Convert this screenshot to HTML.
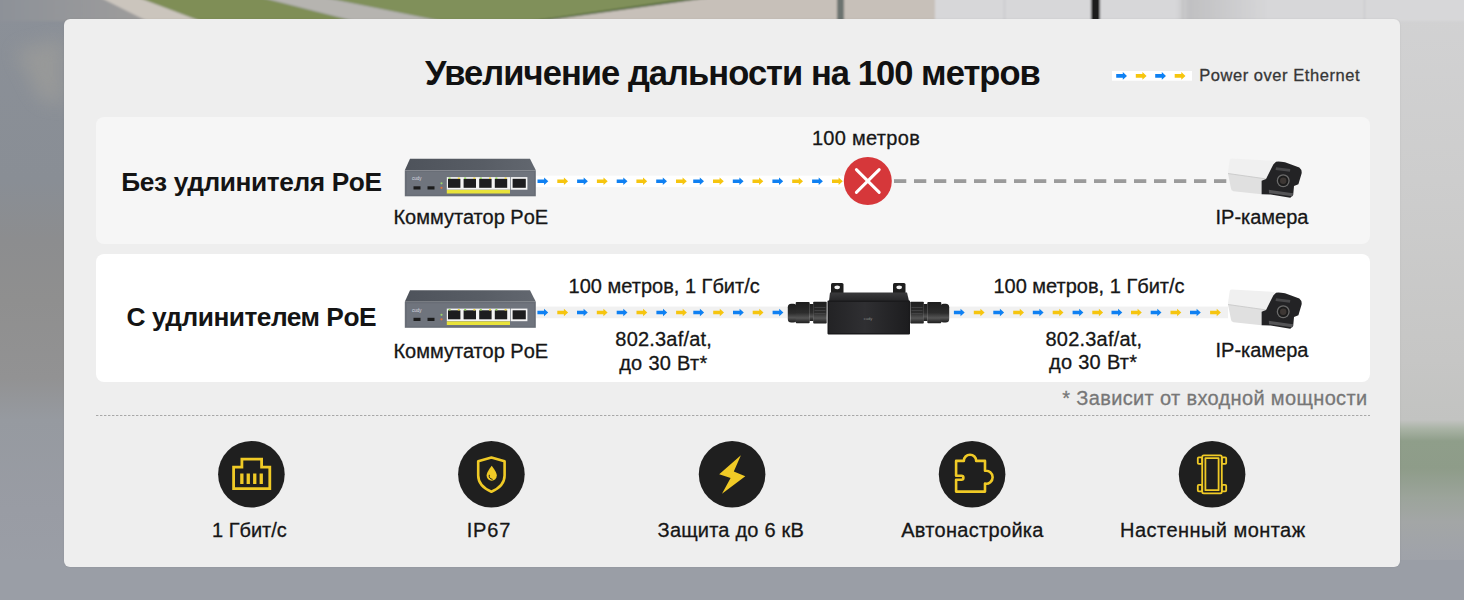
<!DOCTYPE html>
<html><head><meta charset="utf-8"><style>
html,body{margin:0;padding:0;width:1464px;height:600px;overflow:hidden;background:#9a9ea6}
body{position:relative;font-family:"Liberation Sans",sans-serif}
.a{position:absolute}
.t{position:absolute;white-space:nowrap;line-height:1}
.t.r{-webkit-text-stroke:0.3px currentColor}
.card{position:absolute;left:64px;top:19px;width:1336px;height:548px;border-radius:6px;background:#eeeeee;box-shadow:0 0 2px rgba(0,0,0,.08)}
.r1{position:absolute;left:96px;top:117px;width:1274px;height:127px;border-radius:8px;background:#f6f6f6}
.r2{position:absolute;left:96px;top:254px;width:1274px;height:128px;border-radius:8px;background:#ffffff}
</style></head><body>
<svg class="a" style="left:0;top:0" width="1464" height="600" viewBox="0 0 1464 600">
<defs>
<linearGradient id="lg" x1="0" y1="0" x2="0" y2="1">
 <stop offset="0" stop-color="#8b9098"/><stop offset="0.3" stop-color="#898e95"/><stop offset="0.4" stop-color="#8c8d8f"/><stop offset="0.5" stop-color="#8f8f8f"/><stop offset="0.63" stop-color="#929293"/><stop offset="0.7" stop-color="#969aa0"/><stop offset="0.85" stop-color="#999ca4"/><stop offset="1" stop-color="#9b9fa7"/>
</linearGradient>
<linearGradient id="rg" x1="0" y1="0" x2="0" y2="1">
 <stop offset="0" stop-color="#d2d2d3"/><stop offset="0.3" stop-color="#cdcdcd"/><stop offset="0.6" stop-color="#c6c6c5"/><stop offset="0.7" stop-color="#c2c3c1"/><stop offset="0.715" stop-color="#a9b3a5"/><stop offset="0.735" stop-color="#8f9e8a"/><stop offset="0.78" stop-color="#8e9c89"/><stop offset="0.83" stop-color="#9ca49b"/><stop offset="0.87" stop-color="#a3a6a6"/><stop offset="0.92" stop-color="#a0a3a9"/><stop offset="1" stop-color="#9a9ea6"/>
</linearGradient>
<linearGradient id="road" x1="0" y1="0" x2="1" y2="0">
 <stop offset="0" stop-color="#8b9098"/><stop offset="0.6" stop-color="#9a9a9b"/><stop offset="1" stop-color="#a4a19d"/>
</linearGradient>
<linearGradient id="wg" x1="0" y1="0" x2="1" y2="0"><stop offset="0" stop-color="#d6d6d8"/><stop offset="0.15" stop-color="#c0c0c2"/><stop offset="0.5" stop-color="#c9c9cb"/><stop offset="1" stop-color="#d6d6d8"/></linearGradient>
<filter id="bl2" x="-1" y="-1" width="3" height="3"><feGaussianBlur stdDeviation="9"/></filter>
<filter id="bl" filterUnits="userSpaceOnUse" x="-50" y="-50" width="1564" height="130"><feGaussianBlur stdDeviation="1.3"/></filter>
</defs>
<rect x="0" y="0" width="1464" height="600" fill="url(#lg)"/>
<rect x="1380" y="0" width="84" height="600" fill="url(#rg)"/>
<polygon points="15,50 64,38 64,105 40,100" fill="#9c9c9a" opacity="0.75" filter="url(#bl2)"/>
<rect x="0" y="560" width="1464" height="40" fill="#9a9ea6"/>
<g filter="url(#bl)">
<polygon points="-20,-10 200,-10 200,21 -20,21" fill="url(#road)"/>
<polygon points="85.0,-10 118.5,-10 200.6,21 147.0,21" fill="#cbc5bd"/>
<polygon points="118.5,-10 231.6,-10 353.8,21 200.6,21" fill="#7f8e57"/>
<polygon points="231.6,-10 287.0,-10 442.0,21 353.8,21" fill="#b6b4b0"/>
<polygon points="287.0,-10 765.4,-10 541.1,21 442.0,21" fill="#80905a"/>
<polygon points="750.6,-10 770.4,-10 546.1,21 531.8,21" fill="#3f5a2c"/>
<polygon points="765.4,-10 940.0,-10 940.0,21 541.1,21" fill="#c7c0b9"/>
<rect x="837" y="-10" width="7" height="31" fill="#6c7370"/>
<rect x="935" y="-10" width="560" height="31" fill="#d7d7d9"/>
<rect x="1176" y="-10" width="90" height="31" fill="url(#wg)"/>
<rect x="1004" y="-10" width="1" height="31" fill="#c4c4c6"/><rect x="1182" y="-10" width="1" height="31" fill="#bdbdbf"/><rect x="1364" y="-10" width="1" height="31" fill="#c6c6c8"/>
<rect x="1091" y="-10" width="9" height="31" fill="#1c1c1c"/>
</g>
</svg>
<div class="card"></div>
<div class="r1"></div>
<div class="r2"></div>
<svg class="a" style="left:0;top:0" width="1464" height="600" viewBox="0 0 1464 600">
<defs><linearGradient id="eg" x1="0" y1="0" x2="1" y2="0"><stop offset="0" stop-color="#232325"/><stop offset="0.45" stop-color="#2f2f32"/><stop offset="1" stop-color="#1d1d1f"/></linearGradient><linearGradient id="sg" x1="0" y1="0" x2="1" y2="0"><stop offset="0" stop-color="#4e535b"/><stop offset="0.6" stop-color="#585d65"/><stop offset="1" stop-color="#62676f"/></linearGradient><linearGradient id="tg" x1="0" y1="0" x2="0" y2="1"><stop offset="0" stop-color="#3a3a3c"/><stop offset="1" stop-color="#252527"/></linearGradient><linearGradient id="cg" x1="0" y1="0" x2="0" y2="1"><stop offset="0" stop-color="#1e1e1e"/><stop offset="0.5" stop-color="#2c2c2c"/><stop offset="0.75" stop-color="#555555"/><stop offset="0.9" stop-color="#333333"/><stop offset="1" stop-color="#1e1e1e"/></linearGradient></defs>
<!-- legend -->
<rect x="1112" y="71" width="80" height="9.7" fill="#ffffff"/>
<path d="M1116.2 74.1h6.6v-2.0l4.2 3.8l-4.2 3.8v-2.0h-6.6z" fill="#0f80f2"/><path d="M1135.8 74.1h6.6v-2.0l4.2 3.8l-4.2 3.8v-2.0h-6.6z" fill="#f6c50f"/><path d="M1155.2 74.1h6.6v-2.0l4.2 3.8l-4.2 3.8v-2.0h-6.6z" fill="#0f80f2"/><path d="M1174.7 74.1h6.6v-2.0l4.2 3.8l-4.2 3.8v-2.0h-6.6z" fill="#f6c50f"/>
<!-- row 1 -->
<rect x="536" y="175.6" width="310" height="11.6" fill="#ffffff"/>
<path d="M537.5 179.4h6.6v-2.0l4.2 3.8l-4.2 3.8v-2.0h-6.6z" fill="#0f80f2"/><path d="M557.3 179.4h6.6v-2.0l4.2 3.8l-4.2 3.8v-2.0h-6.6z" fill="#f6c50f"/><path d="M577.1 179.4h6.6v-2.0l4.2 3.8l-4.2 3.8v-2.0h-6.6z" fill="#0f80f2"/><path d="M596.9 179.4h6.6v-2.0l4.2 3.8l-4.2 3.8v-2.0h-6.6z" fill="#f6c50f"/><path d="M616.7 179.4h6.6v-2.0l4.2 3.8l-4.2 3.8v-2.0h-6.6z" fill="#0f80f2"/><path d="M636.4 179.4h6.6v-2.0l4.2 3.8l-4.2 3.8v-2.0h-6.6z" fill="#f6c50f"/><path d="M656.2 179.4h6.6v-2.0l4.2 3.8l-4.2 3.8v-2.0h-6.6z" fill="#0f80f2"/><path d="M676.0 179.4h6.6v-2.0l4.2 3.8l-4.2 3.8v-2.0h-6.6z" fill="#f6c50f"/><path d="M693.2 179.4h6.6v-2.0l4.2 3.8l-4.2 3.8v-2.0h-6.6z" fill="#0f80f2"/><path d="M713.0 179.4h6.6v-2.0l4.2 3.8l-4.2 3.8v-2.0h-6.6z" fill="#f6c50f"/><path d="M732.8 179.4h6.6v-2.0l4.2 3.8l-4.2 3.8v-2.0h-6.6z" fill="#0f80f2"/><path d="M752.5 179.4h6.6v-2.0l4.2 3.8l-4.2 3.8v-2.0h-6.6z" fill="#f6c50f"/><path d="M772.4 179.4h6.6v-2.0l4.2 3.8l-4.2 3.8v-2.0h-6.6z" fill="#0f80f2"/><path d="M792.2 179.4h6.6v-2.0l4.2 3.8l-4.2 3.8v-2.0h-6.6z" fill="#f6c50f"/><path d="M812.1 179.4h6.6v-2.0l4.2 3.8l-4.2 3.8v-2.0h-6.6z" fill="#0f80f2"/><path d="M832.0 179.4h6.6v-2.0l4.2 3.8l-4.2 3.8v-2.0h-6.6z" fill="#f6c50f"/>
<rect x="894.0" y="179.2" width="12.3" height="3.8" fill="#9b9b9b"/><rect x="914.0" y="179.2" width="12.3" height="3.8" fill="#9b9b9b"/><rect x="934.0" y="179.2" width="12.3" height="3.8" fill="#9b9b9b"/><rect x="954.0" y="179.2" width="12.3" height="3.8" fill="#9b9b9b"/><rect x="974.0" y="179.2" width="12.3" height="3.8" fill="#9b9b9b"/><rect x="994.0" y="179.2" width="12.3" height="3.8" fill="#9b9b9b"/><rect x="1014.0" y="179.2" width="12.3" height="3.8" fill="#9b9b9b"/><rect x="1034.0" y="179.2" width="12.3" height="3.8" fill="#9b9b9b"/><rect x="1054.0" y="179.2" width="12.3" height="3.8" fill="#9b9b9b"/><rect x="1074.0" y="179.2" width="12.3" height="3.8" fill="#9b9b9b"/><rect x="1094.0" y="179.2" width="12.3" height="3.8" fill="#9b9b9b"/><rect x="1114.0" y="179.2" width="12.3" height="3.8" fill="#9b9b9b"/><rect x="1134.0" y="179.2" width="12.3" height="3.8" fill="#9b9b9b"/><rect x="1154.0" y="179.2" width="12.3" height="3.8" fill="#9b9b9b"/><rect x="1174.0" y="179.2" width="12.3" height="3.8" fill="#9b9b9b"/><rect x="1194.0" y="179.2" width="12.3" height="3.8" fill="#9b9b9b"/><rect x="1214.0" y="179.2" width="12.3" height="3.8" fill="#9b9b9b"/>
<circle cx="867.8" cy="181" r="24" fill="#d6373a"/>
<path d="M856.4 169.6 L879.2 192.4 M879.2 169.6 L856.4 192.4" stroke="#fff" stroke-width="3" stroke-linecap="round"/>
<g transform="translate(404 158.3)">
<polygon points="6,0.5 126,0.5 131.8,12 0.8,12" fill="url(#sg)"/>
<rect x="0.8" y="12" width="131" height="26" fill="#686d76"/>
<rect x="3" y="13.5" width="127" height="23" fill="#6f747d"/>
<rect x="42.8" y="18.8" width="63.5" height="12.6" fill="#f4f4f4"/>
<rect x="44.0" y="20.5" width="12.4" height="9" fill="#1d1d1f"/><rect x="44.6" y="19.2" width="2" height="1.5" fill="#8fd14f"/><rect x="53.8" y="19.2" width="2" height="1.5" fill="#e8d23a"/><rect x="59.6" y="20.5" width="12.4" height="9" fill="#1d1d1f"/><rect x="60.2" y="19.2" width="2" height="1.5" fill="#8fd14f"/><rect x="69.4" y="19.2" width="2" height="1.5" fill="#e8d23a"/><rect x="75.2" y="20.5" width="12.4" height="9" fill="#1d1d1f"/><rect x="75.8" y="19.2" width="2" height="1.5" fill="#8fd14f"/><rect x="85.0" y="19.2" width="2" height="1.5" fill="#e8d23a"/><rect x="90.8" y="20.5" width="12.4" height="9" fill="#1d1d1f"/><rect x="91.4" y="19.2" width="2" height="1.5" fill="#8fd14f"/><rect x="100.6" y="19.2" width="2" height="1.5" fill="#e8d23a"/>
<rect x="107" y="18.8" width="16.4" height="12.6" fill="#f4f4f4"/>
<rect x="108.6" y="20.5" width="13.2" height="9" fill="#1d1d1f"/>
<rect x="42.8" y="31.6" width="63.2" height="3.6" fill="#e9e33a"/>
<rect x="9.5" y="28" width="7" height="3.2" fill="#1c1c1c"/>
<rect x="23.5" y="28" width="7" height="3.2" fill="#1c1c1c"/>
<circle cx="37.5" cy="25" r="1.1" fill="#9bd36b"/><circle cx="37.5" cy="29.5" r="1.1" fill="#e2733a"/>
<text x="8" y="22" font-size="4.5" fill="#d8dae0" font-family="Liberation Sans">cudy</text>
</g>
<g transform="translate(1226 157)">
<path d="M2 15 L3.8 2.8 Q4.3 1.5 6 1.5 L47 3.9 L50 4.8 L40 21.9 L2 16.5 Z" fill="#f0f0f0"/>
<path d="M2 16.5 L40 21.9 L35.6 23.7 L35.6 37.2 L7.5 34.2 Q5 33.7 5 31.5 Z" fill="#e0e0e0"/>
<path d="M2 16.5 L40 21.9" stroke="#c4c4c4" stroke-width="0.8"/>
<path d="M35.6 23.7 L40 21.9 L47.3 7.5 L50 4.8 Q52 4 59 5.2 L73.3 10.6 Q76.2 13 75.6 16.5 L72.4 27.3 L68 29 L67.2 38 L64.3 40.8 L44.6 37.6 L35.6 37.2 Z" fill="#232325"/>
<path d="M50 10.2 L64.3 12 L64 14.7 L49.5 13 Z" fill="#48484a"/>
<path d="M42.8 32.7 L67 36.3 L66.5 39.3 L43 36.2 Z" fill="#555557"/>
<circle cx="57.2" cy="23.7" r="6.5" fill="#6a6a6a"/>
<circle cx="57.2" cy="23.7" r="5.2" fill="#1c1c1c"/>
<circle cx="57.2" cy="23.7" r="3.2" fill="#3d3734"/>
</g>
<!-- row 2 -->
<rect x="536" y="306.6" width="252" height="11.6" fill="#f1f1f1"/>
<rect x="948" y="306.6" width="280" height="11.6" fill="#f1f1f1"/>
<path d="M537.4 310.7h6.6v-2.0l4.2 3.8l-4.2 3.8v-2.0h-6.6z" fill="#0f80f2"/><path d="M557.3 310.7h6.6v-2.0l4.2 3.8l-4.2 3.8v-2.0h-6.6z" fill="#f6c50f"/><path d="M577.0 310.7h6.6v-2.0l4.2 3.8l-4.2 3.8v-2.0h-6.6z" fill="#0f80f2"/><path d="M596.8 310.7h6.6v-2.0l4.2 3.8l-4.2 3.8v-2.0h-6.6z" fill="#f6c50f"/><path d="M616.7 310.7h6.6v-2.0l4.2 3.8l-4.2 3.8v-2.0h-6.6z" fill="#0f80f2"/><path d="M636.5 310.7h6.6v-2.0l4.2 3.8l-4.2 3.8v-2.0h-6.6z" fill="#f6c50f"/><path d="M656.4 310.7h6.6v-2.0l4.2 3.8l-4.2 3.8v-2.0h-6.6z" fill="#0f80f2"/><path d="M676.1 310.7h6.6v-2.0l4.2 3.8l-4.2 3.8v-2.0h-6.6z" fill="#f6c50f"/><path d="M693.3 310.7h6.6v-2.0l4.2 3.8l-4.2 3.8v-2.0h-6.6z" fill="#0f80f2"/><path d="M713.2 310.7h6.6v-2.0l4.2 3.8l-4.2 3.8v-2.0h-6.6z" fill="#f6c50f"/><path d="M733.0 310.7h6.6v-2.0l4.2 3.8l-4.2 3.8v-2.0h-6.6z" fill="#0f80f2"/><path d="M752.7 310.7h6.6v-2.0l4.2 3.8l-4.2 3.8v-2.0h-6.6z" fill="#f6c50f"/><path d="M772.6 310.7h6.6v-2.0l4.2 3.8l-4.2 3.8v-2.0h-6.6z" fill="#0f80f2"/>
<path d="M953.9 310.7h6.6v-2.0l4.2 3.8l-4.2 3.8v-2.0h-6.6z" fill="#0f80f2"/><path d="M973.8 310.7h6.6v-2.0l4.2 3.8l-4.2 3.8v-2.0h-6.6z" fill="#f6c50f"/><path d="M993.3 310.7h6.6v-2.0l4.2 3.8l-4.2 3.8v-2.0h-6.6z" fill="#0f80f2"/><path d="M1013.2 310.7h6.6v-2.0l4.2 3.8l-4.2 3.8v-2.0h-6.6z" fill="#f6c50f"/><path d="M1032.8 310.7h6.6v-2.0l4.2 3.8l-4.2 3.8v-2.0h-6.6z" fill="#0f80f2"/><path d="M1052.7 310.7h6.6v-2.0l4.2 3.8l-4.2 3.8v-2.0h-6.6z" fill="#f6c50f"/><path d="M1072.6 310.7h6.6v-2.0l4.2 3.8l-4.2 3.8v-2.0h-6.6z" fill="#0f80f2"/><path d="M1092.3 310.7h6.6v-2.0l4.2 3.8l-4.2 3.8v-2.0h-6.6z" fill="#f6c50f"/><path d="M1111.5 310.7h6.6v-2.0l4.2 3.8l-4.2 3.8v-2.0h-6.6z" fill="#0f80f2"/><path d="M1131.0 310.7h6.6v-2.0l4.2 3.8l-4.2 3.8v-2.0h-6.6z" fill="#f6c50f"/><path d="M1150.7 310.7h6.6v-2.0l4.2 3.8l-4.2 3.8v-2.0h-6.6z" fill="#0f80f2"/><path d="M1170.5 310.7h6.6v-2.0l4.2 3.8l-4.2 3.8v-2.0h-6.6z" fill="#f6c50f"/><path d="M1190.0 310.7h6.6v-2.0l4.2 3.8l-4.2 3.8v-2.0h-6.6z" fill="#0f80f2"/><path d="M1210.1 310.7h6.6v-2.0l4.2 3.8l-4.2 3.8v-2.0h-6.6z" fill="#f6c50f"/>
<g transform="translate(404 289.8)">
<polygon points="6,0.5 126,0.5 131.8,12 0.8,12" fill="url(#sg)"/>
<rect x="0.8" y="12" width="131" height="26" fill="#686d76"/>
<rect x="3" y="13.5" width="127" height="23" fill="#6f747d"/>
<rect x="42.8" y="18.8" width="63.5" height="12.6" fill="#f4f4f4"/>
<rect x="44.0" y="20.5" width="12.4" height="9" fill="#1d1d1f"/><rect x="44.6" y="19.2" width="2" height="1.5" fill="#8fd14f"/><rect x="53.8" y="19.2" width="2" height="1.5" fill="#e8d23a"/><rect x="59.6" y="20.5" width="12.4" height="9" fill="#1d1d1f"/><rect x="60.2" y="19.2" width="2" height="1.5" fill="#8fd14f"/><rect x="69.4" y="19.2" width="2" height="1.5" fill="#e8d23a"/><rect x="75.2" y="20.5" width="12.4" height="9" fill="#1d1d1f"/><rect x="75.8" y="19.2" width="2" height="1.5" fill="#8fd14f"/><rect x="85.0" y="19.2" width="2" height="1.5" fill="#e8d23a"/><rect x="90.8" y="20.5" width="12.4" height="9" fill="#1d1d1f"/><rect x="91.4" y="19.2" width="2" height="1.5" fill="#8fd14f"/><rect x="100.6" y="19.2" width="2" height="1.5" fill="#e8d23a"/>
<rect x="107" y="18.8" width="16.4" height="12.6" fill="#f4f4f4"/>
<rect x="108.6" y="20.5" width="13.2" height="9" fill="#1d1d1f"/>
<rect x="42.8" y="31.6" width="63.2" height="3.6" fill="#e9e33a"/>
<rect x="9.5" y="28" width="7" height="3.2" fill="#1c1c1c"/>
<rect x="23.5" y="28" width="7" height="3.2" fill="#1c1c1c"/>
<circle cx="37.5" cy="25" r="1.1" fill="#9bd36b"/><circle cx="37.5" cy="29.5" r="1.1" fill="#e2733a"/>
<text x="8" y="22" font-size="4.5" fill="#d8dae0" font-family="Liberation Sans">cudy</text>
</g>
<g transform="translate(787 283)">
<path d="M44 12 V1.5 Q44 0 45.5 0 H55 Q56.5 0 56.5 1.5 V12 Z" fill="#1e1e1e"/>
<path d="M106 12 V1.5 Q106 0 107.5 0 H117 Q118.5 0 118.5 1.5 V12 Z" fill="#1e1e1e"/>
<ellipse cx="50.2" cy="4.3" rx="2.8" ry="1.9" fill="#f4f4f4"/>
<ellipse cx="112.2" cy="4.3" rx="2.8" ry="1.9" fill="#f4f4f4"/>
<path d="M42 18 L43 9.5 H120 L122 18 Z" fill="url(#tg)"/>
<rect x="40.5" y="17.6" width="82.5" height="33.8" rx="0.8" fill="#1a1a1c"/>
<rect x="42" y="19" width="79.5" height="31" fill="url(#eg)"/>
<g fill="url(#cg)">
<rect x="0.8" y="20.8" width="9" height="18.6" rx="3.5"/>
<rect x="8.7" y="19" width="14" height="21.3" rx="1"/>
<rect x="22.5" y="21" width="4" height="17"/>
<rect x="26.2" y="18.7" width="13.5" height="21.9" rx="0.8"/>
<rect x="123.3" y="18.7" width="13.5" height="21.9" rx="0.8"/>
<rect x="136.5" y="21" width="4" height="17"/>
<rect x="140.3" y="19" width="14" height="21.3" rx="1"/>
<rect x="153.2" y="20.8" width="9" height="18.6" rx="3.5"/>
</g>
<g stroke="#4a4a4c" stroke-width="0.7">
<path d="M27.5 24.5 H38.5 M27.5 27.5 H38.5 M27.5 30.5 H38.5 M124.5 24.5 H135.5 M124.5 27.5 H135.5 M124.5 30.5 H135.5"/>
</g>
<text x="81" y="36.5" font-size="4" fill="#8a8a8a" font-family="Liberation Sans" text-anchor="middle">cudy</text>
</g>
<g transform="translate(1226 288)">
<path d="M2 15 L3.8 2.8 Q4.3 1.5 6 1.5 L47 3.9 L50 4.8 L40 21.9 L2 16.5 Z" fill="#f0f0f0"/>
<path d="M2 16.5 L40 21.9 L35.6 23.7 L35.6 37.2 L7.5 34.2 Q5 33.7 5 31.5 Z" fill="#e0e0e0"/>
<path d="M2 16.5 L40 21.9" stroke="#c4c4c4" stroke-width="0.8"/>
<path d="M35.6 23.7 L40 21.9 L47.3 7.5 L50 4.8 Q52 4 59 5.2 L73.3 10.6 Q76.2 13 75.6 16.5 L72.4 27.3 L68 29 L67.2 38 L64.3 40.8 L44.6 37.6 L35.6 37.2 Z" fill="#232325"/>
<path d="M50 10.2 L64.3 12 L64 14.7 L49.5 13 Z" fill="#48484a"/>
<path d="M42.8 32.7 L67 36.3 L66.5 39.3 L43 36.2 Z" fill="#555557"/>
<circle cx="57.2" cy="23.7" r="6.5" fill="#6a6a6a"/>
<circle cx="57.2" cy="23.7" r="5.2" fill="#1c1c1c"/>
<circle cx="57.2" cy="23.7" r="3.2" fill="#3d3734"/>
</g>
<!-- separator -->
<line x1="96" y1="415.5" x2="1370" y2="415.5" stroke="#a8a8a8" stroke-width="1" stroke-dasharray="2.4 1.6"/>
<!-- features -->
<circle cx="251.4" cy="474.2" r="33.3" fill="#1f1f1f"/>
<circle cx="491.4" cy="474.2" r="33.3" fill="#1f1f1f"/>
<circle cx="732.1" cy="474.2" r="33.3" fill="#1f1f1f"/>
<circle cx="972.1" cy="474.2" r="33.3" fill="#1f1f1f"/>
<circle cx="1212.1" cy="474.2" r="33.3" fill="#1f1f1f"/>

<g fill="none" stroke="#f0ca26" stroke-width="2.8">
 <path d="M233.6 467.2 H241.9 V459.1 H261.6 V467.2 H269.8 V488.6 H233.6 Z"/>
</g>
<g fill="#f0ca26">
 <rect x="240.2" y="473.5" width="3.3" height="10.5"/>
 <rect x="246.6" y="473.5" width="3.3" height="10.5"/>
 <rect x="253.1" y="473.5" width="3.3" height="10.5"/>
 <rect x="259.6" y="473.5" width="3.3" height="10.5"/>
</g>
<path d="M491.4 457.6 L504.6 461.2 V475.5 Q504.6 486 491.4 491.8 Q478.2 486 478.2 475.5 V461.2 Z" fill="none" stroke="#f0ca26" stroke-width="2.6" stroke-linejoin="round"/>
<path d="M491.7 465.8 Q496.8 472.4 496.8 475.6 A5.1 5.1 0 0 1 486.6 475.6 Q486.6 472.4 491.7 465.8 Z" fill="#f0ca26"/>
<path d="M489.3 474.8 Q488.6 478.6 492.6 479.4" fill="none" stroke="#1f1f1f" stroke-width="1"/>
<polygon points="740.9,455.2 719.2,474.2 730.6,478.0 722.0,493.8 745.3,476.2 733.8,471.4" fill="#f0ca26"/>
<path d="M956.1 460.9 H963.8 A6.2 6.2 0 1 1 976.2 460.9 H985 V470.8 A6.5 6.5 0 1 1 985 483.6 V491.6 H956.1 V479.8 H961.4 A2 2 0 0 0 961.4 475.8 H956.1 Z" fill="none" stroke="#f0ca26" stroke-width="2.6" stroke-linejoin="round"/>
<g fill="none" stroke="#f0ca26" stroke-width="1.8" stroke-linejoin="round">
 <rect x="1202.2" y="455.4" width="19.6" height="38" rx="1.6"/>
 <rect x="1205.4" y="458.2" width="13.2" height="32"/>
 <rect x="1197.8" y="457.4" width="4.4" height="6.4" rx="1"/>
 <rect x="1197.8" y="484.9" width="4.4" height="6.4" rx="1"/>
 <rect x="1221.8" y="457.4" width="4.4" height="6.4" rx="1"/>
 <rect x="1221.8" y="484.9" width="4.4" height="6.4" rx="1"/>
</g>

</svg>
<div class="t" style="top:55.6px;font-size:34.5px;font-weight:700;color:#111;letter-spacing:-0.95px;left:232.5px;width:1000px;text-align:center;">Увеличение дальности на 100 метров</div><div class="t r" style="top:67.1px;font-size:16.5px;font-weight:400;color:#363636;letter-spacing:0.55px;left:1199.2px;">Power over Ethernet</div><div class="t" style="top:169.2px;font-size:26.3px;font-weight:700;color:#141414;letter-spacing:-0.4px;left:-248.5px;width:1000px;text-align:center;">Без удлинителя PoE</div><div class="t r" style="top:206.6px;font-size:20px;font-weight:400;color:#161616;letter-spacing:0px;left:-29.2px;width:1000px;text-align:center;">Коммутатор PoE</div><div class="t r" style="top:127.8px;font-size:20px;font-weight:400;color:#161616;letter-spacing:0.3px;left:366.0px;width:1000px;text-align:center;">100 метров</div><div class="t r" style="top:207.1px;font-size:20px;font-weight:400;color:#161616;letter-spacing:0px;left:762.0px;width:1000px;text-align:center;">IP-камера</div><div class="t" style="top:304.2px;font-size:26.3px;font-weight:700;color:#141414;letter-spacing:-0.5px;left:-248.7px;width:1000px;text-align:center;">С удлинителем PoE</div><div class="t r" style="top:341.3px;font-size:20px;font-weight:400;color:#161616;letter-spacing:0px;left:-29.2px;width:1000px;text-align:center;">Коммутатор PoE</div><div class="t r" style="top:275.8px;font-size:20px;font-weight:400;color:#161616;letter-spacing:0px;left:164.2px;width:1000px;text-align:center;">100 метров, 1 Гбит/с</div><div class="t r" style="top:276.1px;font-size:20px;font-weight:400;color:#161616;letter-spacing:0px;left:589.0px;width:1000px;text-align:center;">100 метров, 1 Гбит/с</div><div class="t r" style="top:329.1px;font-size:20px;font-weight:400;color:#161616;letter-spacing:0.2px;left:163.7px;width:1000px;text-align:center;">802.3af/at,</div><div class="t r" style="top:352.7px;font-size:20px;font-weight:400;color:#161616;letter-spacing:0.3px;left:163.4px;width:1000px;text-align:center;">до 30 Вт*</div><div class="t r" style="top:328.7px;font-size:20px;font-weight:400;color:#161616;letter-spacing:0.2px;left:593.9px;width:1000px;text-align:center;">802.3af/at,</div><div class="t r" style="top:352.4px;font-size:20px;font-weight:400;color:#161616;letter-spacing:0.3px;left:593.2px;width:1000px;text-align:center;">до 30 Вт*</div><div class="t r" style="top:339.9px;font-size:20px;font-weight:400;color:#161616;letter-spacing:0px;left:762.0px;width:1000px;text-align:center;">IP-камера</div><div class="t r" style="top:388.1px;font-size:20px;font-weight:400;color:#777777;letter-spacing:0.35px;right:96.5px;text-align:right;">* Зависит от входной мощности</div><div class="t r" style="top:519.8px;font-size:20px;font-weight:400;color:#161616;letter-spacing:0px;left:-250.6px;width:1000px;text-align:center;">1 Гбит/с</div><div class="t r" style="top:519.8px;font-size:20px;font-weight:400;color:#161616;letter-spacing:0.8px;left:-11.1px;width:1000px;text-align:center;">IP67</div><div class="t r" style="top:519.8px;font-size:20px;font-weight:400;color:#161616;letter-spacing:0.2px;left:230.8px;width:1000px;text-align:center;">Защита до 6 кВ</div><div class="t r" style="top:519.8px;font-size:20px;font-weight:400;color:#161616;letter-spacing:0.3px;left:472.5px;width:1000px;text-align:center;">Автонастройка</div><div class="t r" style="top:519.8px;font-size:20px;font-weight:400;color:#161616;letter-spacing:0.45px;left:712.8px;width:1000px;text-align:center;">Настенный монтаж</div>
</body></html>
